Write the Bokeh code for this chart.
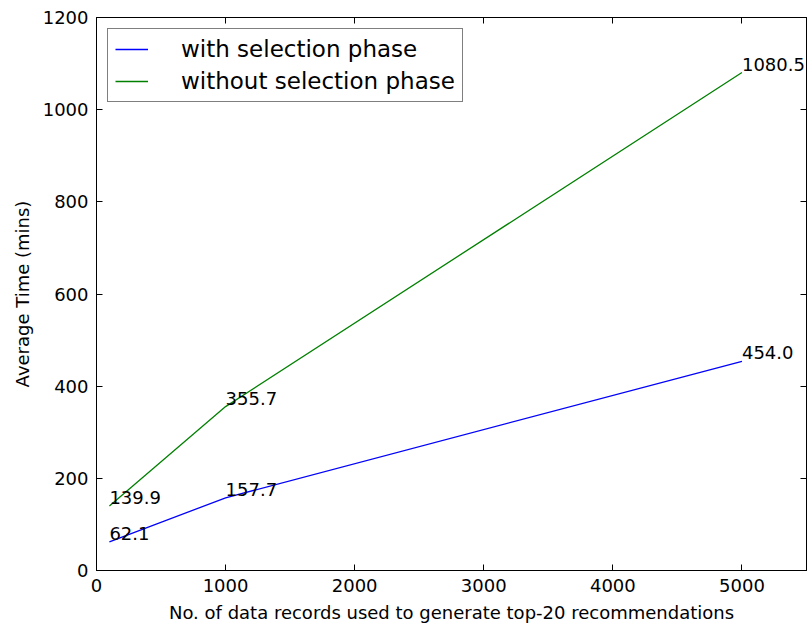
from bokeh.plotting import figure
from bokeh.models import (ColumnDataSource, Range1d, FixedTicker, LinearAxis,
                          Legend, LegendItem)
from bokeh.core.properties import value
from bokeh.embed import file_html
from bokeh.resources import INLINE

records = [100, 1000, 5000]
with_selection = [62.1, 157.7, 454.0]
without_selection = [139.9, 355.7, 1080.5]
series_names = ["with selection phase", "without selection phase"]
x_ticks = [0, 1000, 2000, 3000, 4000, 5000]
y_ticks = [0, 200, 400, 600, 800, 1000, 1200]

FONT = "DejaVu Sans"

p = figure(width=810, height=628, output_backend="svg", toolbar_location=None,
           x_range=Range1d(0, 5500), y_range=Range1d(0, 1200),
           min_border_left=96, min_border_right=4, min_border_top=17,
           min_border_bottom=58)
p.grid.visible = False
p.background_fill_color = "white"
p.border_fill_color = "white"
p.outline_line_color = "black"
p.outline_line_width = 1

for ax, ticks in ((p.xaxis[0], x_ticks), (p.yaxis[0], y_ticks)):
    ax.ticker = FixedTicker(ticks=ticks)
    ax.major_tick_in = 6
    ax.major_tick_out = 0
    ax.minor_tick_line_color = None
    ax.major_label_standoff = 8
    ax.major_label_text_font = FONT
    ax.major_label_text_font_size = "18px"
    ax.major_label_text_color = "black"
    ax.axis_label_text_font = FONT
    ax.axis_label_text_font_size = "18px"
    ax.axis_label_text_font_style = "normal"
    ax.axis_label_text_color = "black"
    ax.axis_label_standoff = 7
    ax.axis_line_color = "black"
    ax.major_tick_line_color = "black"

p.xaxis[0].axis_label = "No. of data records used to generate top-20 recommendations"
p.yaxis[0].axis_label = "Average Time (mins)"

for loc, ticks in (("above", x_ticks), ("right", y_ticks)):
    ax = LinearAxis(ticker=FixedTicker(ticks=ticks))
    ax.major_tick_in = 6
    ax.major_tick_out = 0
    ax.minor_tick_line_color = None
    ax.major_label_text_color = None
    ax.major_label_text_font_size = "1px"
    ax.major_label_standoff = 0
    ax.axis_line_color = "black"
    ax.major_tick_line_color = "black"
    p.add_layout(ax, loc)

src1 = ColumnDataSource(dict(x=records, y=with_selection,
                             t=["%.1f" % v for v in with_selection]))
src2 = ColumnDataSource(dict(x=records, y=without_selection,
                             t=["%.1f" % v for v in without_selection]))

r1 = p.line("x", "y", source=src1, line_color="#0000ff", line_width=1.3)
r2 = p.line("x", "y", source=src2, line_color="#008000", line_width=1.3)

for src in (src1, src2):
    p.text("x", "y", text="t", source=src, text_font=value(FONT),
           text_font_size="18px", text_color="black",
           text_align="left", text_baseline="bottom", y_offset=-2)

legend = Legend(items=[LegendItem(label=series_names[0], renderers=[r1]),
                       LegendItem(label=series_names[1], renderers=[r2])],
                location="top_left")
legend.margin = 11
legend.padding = 7
legend.spacing = 6
legend.glyph_width = 33
legend.glyph_height = 20
legend.label_height = 20
legend.label_standoff = 33
legend.label_text_font = FONT
legend.label_text_font_size = "23px"
legend.label_text_color = "black"
legend.border_line_color = "black"
legend.border_line_width = 1
legend.background_fill_color = "white"
legend.background_fill_alpha = 1
p.add_layout(legend)

open("out.html", "w").write(file_html(p, INLINE))
